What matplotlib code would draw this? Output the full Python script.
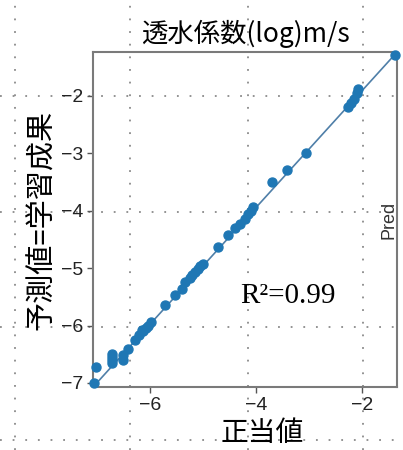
import numpy as np
import matplotlib
matplotlib.use("Agg")
import matplotlib.pyplot as plt

plt.rcParams['font.family'] = ['Noto Sans CJK JP', 'DejaVu Sans']

# measured (true) vs predicted log permeability
true_vals = [-7.05, -7.01, -6.72, -6.72, -6.72, -6.72, -6.51, -6.50, -6.42,
             -6.28, -6.20, -6.15, -6.12, -6.08, -6.03, -5.98, -5.72,
             -5.53, -5.40, -5.34, -5.25, -5.20, -5.15, -5.10, -5.05, -5.00,
             -4.72, -4.53, -4.40, -4.30, -4.20, -4.15, -4.10, -4.06,
             -3.70, -3.42, -3.06,
             -2.26, -2.20, -2.15, -2.10, -2.07, -1.38]
pred_vals = [-7.00, -6.72, -6.49, -6.55, -6.60, -6.66, -6.60, -6.52, -6.40,
             -6.25, -6.17, -6.07, -6.10, -6.05, -6.00, -5.93, -5.65,
             -5.47, -5.36, -5.24, -5.17, -5.12, -5.07, -5.02, -4.97, -4.92,
             -4.63, -4.43, -4.30, -4.23, -4.14, -4.05, -4.00, -3.93,
             -3.50, -3.30, -2.99,
             -2.20, -2.12, -2.05, -1.95, -1.88, -1.29]

fit_x = [-7.07, -1.34]
fit_y = [-7.07, -1.24]

xticks = [-6, -4, -2]
yticks = [-7, -6, -5, -4, -3, -2]
r2 = 0.99

fig = plt.figure(figsize=(4.03, 4.5), dpi=100)

# dotted background grid across the whole figure
bg = fig.add_axes([0, 0, 1, 1])
bg.set_xlim(0, 403)
bg.set_ylim(450, 0)
bg.set_xticks([15, 130, 248, 363])
bg.set_yticks([96, 212, 327, 440])
bg.grid(True, color='#8a8a8a', linestyle=(0, (1, 6)), linewidth=1.3)
bg.tick_params(length=0, labelbottom=False, labelleft=False)
for s in bg.spines.values():
    s.set_visible(False)

ax = fig.add_axes([0.231, 0.140, 0.754, 0.744])
ax.set_facecolor('none')
ax.plot(fit_x, fit_y, color='#4f7fa8', linewidth=1.2, zorder=2)
ax.scatter(true_vals, pred_vals, s=42, color='#1f77b4', zorder=3, clip_on=False)

ax.set_xlim(fit_x)
ax.set_ylim(fit_y)
ax.set_xticks(xticks)
ax.set_yticks(yticks)
ax.set_xticklabels([f'\u2212{abs(t)}' for t in xticks], family='Liberation Sans')
ax.set_yticklabels([f'\u2212{abs(t)}' for t in yticks], family='Liberation Sans')
ax.tick_params(labelsize=14, length=4, width=1, color='#555555', labelcolor='#222222', pad=3)
for s in ax.spines.values():
    s.set_color('#7a7a7a')
    s.set_linewidth(1.5)

ax.set_title('透水係数(log)m/s', fontsize=19, pad=7)
ax.set_ylabel('予測値=学習成果', fontsize=21, labelpad=3)
ax.set_xlabel('正当値', fontsize=20, labelpad=0)
ax.xaxis.set_label_coords(0.556, -0.094)

ax.text(0.484, 0.272, f'R\u00b2={r2}', transform=ax.transAxes,
        fontsize=21, family='Liberation Serif', va='center', ha='left')
ax.text(0.975, 0.5, 'Pred', transform=ax.transAxes, rotation=90,
        fontsize=13, family='Liberation Sans', color='#333333',
        va='center', ha='center')

fig.savefig('out.png', dpi=100)
